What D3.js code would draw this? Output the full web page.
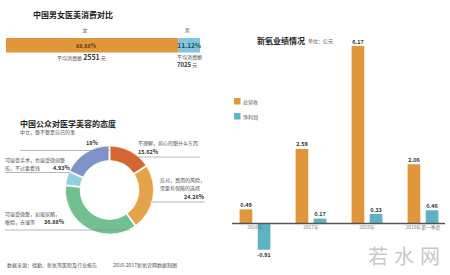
<!DOCTYPE html>
<html>
<head>
<meta charset="utf-8">
<script src="https://cdn.jsdelivr.net/npm/d3@7"></script>
<style>
  body { margin: 0; background: #fff; }
  svg { display: block; font-family: "Noto Sans CJK SC", "Noto Sans", sans-serif; }
  .title { font-weight: bold; font-size: 8px; fill: #222; }
  .small { font-size: 5px; fill: #555; }
  .val { font-size: 5.5px; font-weight: bold; fill: #333; }
</style>
</head>
<body>
<script>
// 男女消费对比
var genders = ["女", "男"];
var genderShare = [88.88, 11.12];
var genderSpend = [2551, 7025];

// 公众态度
var attitudes = ["不理解，担心的整什么东西", "反对，费用的风险，需要有保障", "可接受微整，如玻尿酸、瘦脸、去皱等", "可接受手术，也接受微创整形，不过要看钱", "中立，整不整是自己的事"];
var attitudeShare = [15.62, 24.26, 36.88, 4.93, 18];
var attitudeLabels = ["15.62%", "24.26%", "36.88%", "4.93%", "18%"];

// 新氧业绩
var years = ["2016年", "2017年", "2018年", "2019年第一季度"];
var seriesNames = ["总营收", "净利润"];
var revenue = [0.49, 2.59, 6.17, 2.06];
var profit = [-0.91, 0.17, 0.33, 0.46];

var W = 450, H = 275;
var svg = d3.select("body").append("svg").attr("width", W).attr("height", H);

var orange = "#e0963a", lblue = "#82c5dd", teal = "#5db2c3";

// ---------- top-left stacked bar ----------
svg.append("text").attr("class", "title").attr("x", 33).attr("y", 18).text("中国男女医美消费对比");

var sx = d3.scaleLinear().domain([0, 100]).range([6, 200]);
var cum = [0, genderShare[0]];
var g1 = svg.append("g");
g1.selectAll("rect").data(genderShare).enter().append("rect")
    .attr("x", function(d, i) { return sx(cum[i]); })
    .attr("width", function(d) { return sx(d) - sx(0); })
    .attr("y", 38).attr("height", 14.5)
    .attr("fill", function(d, i) { return i == 0 ? orange : lblue; });
g1.selectAll("text.gn").data(genders).enter().append("text")
    .attr("class", "small")
    .attr("x", function(d, i) { return i == 0 ? 85 : sx(cum[i] + genderShare[i] / 2) - 2; })
    .attr("y", 32).attr("text-anchor", "middle").text(function(d) { return d; });
g1.selectAll("text.pct").data(genderShare).enter().append("text")
    .attr("font-size", function(d, i) { return i == 0 ? 5.5 : 6.5; })
    .attr("font-weight", "bold")
    .attr("fill", function(d, i) { return i == 0 ? "#6b4213" : "#1f4f63"; })
    .attr("x", function(d, i) { return i == 0 ? 86 : sx(cum[i] + d / 2); })
    .attr("y", 47.5).attr("text-anchor", "middle")
    .text(function(d) { return d.toFixed(2) + "%"; });
var s1 = svg.append("text").attr("class", "small").attr("x", 57).attr("y", 60);
s1.append("tspan").text("平均消费额  ");
s1.append("tspan").attr("font-size", 7).attr("font-weight", "bold").attr("fill", "#333").text(genderSpend[0]);
s1.append("tspan").text(" 元");
svg.append("text").attr("class", "small").attr("x", 177).attr("y", 59).text("平均消费额");
var s2 = svg.append("text").attr("class", "small").attr("x", 177).attr("y", 67);
s2.append("tspan").attr("font-size", 6).attr("font-weight", "bold").attr("fill", "#333").text(genderSpend[1]);
s2.append("tspan").text(" 元");

// ---------- donut ----------
svg.append("text").attr("class", "title").attr("x", 20).attr("y", 127).text("中国公众对医学美容的态度");
var pieColors = ["#d3672f", "#e5a24a", "#72c08f", "#93cde2", "#7e93c9"];
var pie = d3.pie().sort(null).padAngle(0.025)(attitudeShare);
var arc = d3.arc().innerRadius(29.5).outerRadius(44);
var dg = svg.append("g").attr("transform", "translate(109.5,190)");
dg.selectAll("path").data(pie).enter().append("path")
    .attr("d", arc)
    .attr("fill", function(d, i) { return pieColors[i]; })
    .attr("stroke", "#fff").attr("stroke-width", 0.6);

// label layout: lines of text, pct position, leader line
var lay = [
  { lines: ["不理解，担心的整什么东西"], tx: 138, ty: 145, px: 138, py: 153.5, anchor: "start", lx1: 133, lx2: 200, ly: 157 },
  { lines: ["反对，费用的风险，", "需要有保障的选择"], tx: 160, ty: 182, px: 204, py: 199, anchor: "end", lx1: 152, lx2: 205, ly: 202 },
  { lines: ["可接受微整，如玻尿酸，", "瘦脸，去皱等"], tx: 5, ty: 216, px: 44, py: 224, anchor: "start", lx1: 5, lx2: 130, ly: 230 },
  { lines: ["可接受手术，也接受微创整", "形，不过要看钱"], tx: 5, ty: 162, px: 53, py: 169.5, anchor: "start", lx1: 5, lx2: 70, ly: 172.5 },
  { lines: ["中立，整不整是自己的事"], tx: 20, ty: 134, px: 86, py: 145, anchor: "start", lx1: 20, lx2: 110, ly: 150.5 }
];
lay.forEach(function(l, i) {
  l.lines.forEach(function(t, j) {
    svg.append("text").attr("class", "small").attr("x", l.tx).attr("y", l.ty + j * 7.5).text(t);
  });
  svg.append("text").attr("class", "val").attr("font-size", 6)
      .attr("x", l.px).attr("y", l.py).attr("text-anchor", l.anchor).text(attitudeLabels[i]);
  svg.append("line").attr("x1", l.lx1).attr("x2", l.lx2).attr("y1", l.ly).attr("y2", l.ly)
      .attr("stroke", "#888").attr("stroke-width", 0.6);
});

svg.append("text").attr("class", "small").attr("font-size", 4.8).attr("x", 7).attr("y", 267).text("数据来源：德勤、新氧等医院及行业报告");
svg.append("text").attr("class", "small").attr("font-size", 4.8).attr("x", 113).attr("y", 267).text("2016-2017新氧官网数据制图");

// ---------- right grouped bars ----------
svg.append("text").attr("class", "title").attr("x", 257).attr("y", 44).text("新氧业绩情况");
svg.append("text").attr("class", "small").attr("fill", "#999").attr("x", 308).attr("y", 43).text("单位：亿元");

var x0 = d3.scaleBand().domain(years).range([227, 451]).paddingInner(0.45).paddingOuter(0.225);
var x1 = d3.scaleBand().domain(seriesNames).range([0, x0.bandwidth()]).paddingInner(0.3);
var y = d3.scaleLinear().domain([0, 6.17]).range([223.5, 46]);
var colors = d3.scaleOrdinal().domain(seriesNames).range([orange, teal]);

var rows = years.map(function(yr, i) {
  return { year: yr, vals: [{ k: seriesNames[0], v: revenue[i] }, { k: seriesNames[1], v: profit[i] }] };
});
var grp = svg.selectAll("g.grp").data(rows).enter().append("g")
    .attr("transform", function(d) { return "translate(" + x0(d.year) + ",0)"; });
grp.selectAll("rect").data(function(d) { return d.vals; }).enter().append("rect")
    .attr("x", function(d) { return x1(d.k); })
    .attr("width", x1.bandwidth())
    .attr("y", function(d) { return y(Math.max(0, d.v)); })
    .attr("height", function(d) { return Math.abs(y(d.v) - y(0)); })
    .attr("fill", function(d) { return colors(d.k); });
grp.selectAll("text").data(function(d) { return d.vals; }).enter().append("text")
    .attr("class", "val")
    .attr("x", function(d) { return x1(d.k) + x1.bandwidth() / 2; })
    .attr("y", function(d) { return d.v >= 0 ? y(d.v) - 2.5 : y(d.v) + 7; })
    .attr("text-anchor", "middle")
    .text(function(d) { return d.v.toFixed(2); });

var xAxis = svg.append("g").attr("transform", "translate(0," + y(0) + ")")
    .call(d3.axisBottom(x0).tickSize(0).tickSizeOuter(0));
xAxis.select(".domain").attr("stroke", "#555").attr("stroke-width", 1.5).attr("d", "M232,0H445");
xAxis.selectAll("text").attr("font-size", 4.8).attr("fill", "#777").attr("dy", "0.55em")
    .attr("font-family", "Noto Sans CJK SC");

var leg = svg.selectAll("g.leg").data(seriesNames).enter().append("g")
    .attr("transform", function(d, i) { return "translate(234," + (98 + i * 15) + ")"; });
leg.append("rect").attr("width", 6.5).attr("height", 6.5).attr("fill", function(d) { return colors(d); });
leg.append("text").attr("class", "small").attr("x", 9).attr("y", 5.5).text(function(d) { return d; });

// watermark
svg.append("text").attr("x", 407).attr("y", 264).attr("text-anchor", "middle")
    .attr("font-size", 20).attr("fill", "#c8c8c8").attr("letter-spacing", 6)
    .attr("font-family", "Noto Sans CJK SC").text("若水网");
</script>
</body>
</html>
